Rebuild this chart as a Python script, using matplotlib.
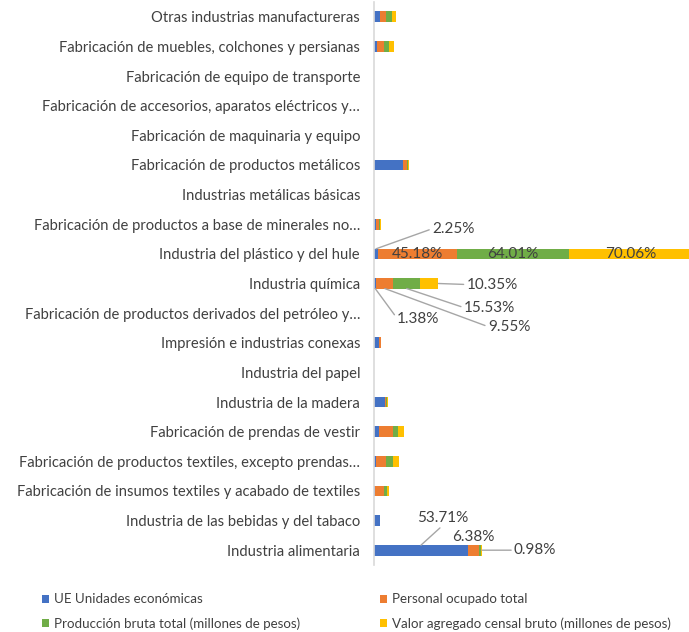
import numpy as np
import matplotlib.pyplot as plt

plt.rcParams['font.family'] = ['Lato', 'DejaVu Sans']

categorias = ['Otras industrias manufactureras',
              'Fabricación de muebles, colchones y persianas',
              'Fabricación de equipo de transporte',
              'Fabricación de accesorios, aparatos eléctricos y…',
              'Fabricación de maquinaria y equipo',
              'Fabricación de productos metálicos',
              'Industrias metálicas básicas',
              'Fabricación de productos a base de minerales no…',
              'Industria del plástico y del hule',
              'Industria química',
              'Fabricación de productos derivados del petróleo y…',
              'Impresión e industrias conexas',
              'Industria del papel',
              'Industria de la madera',
              'Fabricación de prendas de vestir',
              'Fabricación de productos textiles, excepto prendas…',
              'Fabricación de insumos textiles y acabado de textiles',
              'Industria de las bebidas y del tabaco',
              'Industria alimentaria']

series = ['UE Unidades económicas', 'Personal ocupado total',
          'Producción bruta total (millones de pesos)',
          'Valor agregado censal bruto (millones de pesos)']
colores = ['#4472C4', '#ED7D31', '#70AD47', '#FFC000']

# porcentajes por rama
ue       = [3.3, 1.9, 0, 0, 0, 16.4, 0, 1.1, 2.25, 1.38, 0, 3.0, 0, 6.3, 3.0, 1.0, 0.8, 3.4, 53.71]
personal = [3.6, 3.8, 0, 0, 0, 2.6, 0, 1.9, 45.18, 9.55, 0, 0.8, 0, 0.7, 8.0, 5.9, 5.0, 0, 6.38]
produccion = [3.3, 3.0, 0, 0, 0, 0.4, 0, 0.3, 64.01, 15.53, 0, 0, 0, 0.4, 2.9, 4.2, 1.5, 0, 0.98]
valor    = [2.3, 3.0, 0, 0, 0, 0.4, 0, 0.6, 70.06, 10.35, 0, 0.4, 0, 0.4, 3.3, 2.9, 1.1, 0, 0.6]

datos = [ue, personal, produccion, valor]
y = np.arange(len(categorias))

fig = plt.figure(figsize=(6.89, 6.32), dpi=100)
ax = fig.add_axes([374/689, 1-565/632, 1-374/689, 563/632])

izq = np.zeros(len(categorias))
barras = []
for nombre, vals, c in zip(series, datos, colores):
    b = ax.barh(y, vals, left=izq, height=0.36, color=c, label=nombre)
    barras.append(b)
    izq += np.array(vals)

ax.set_ylim(len(categorias)-0.5, -0.5)
ax.set_xlim(0, 180)
ax.set_yticks(y)
ax.set_yticklabels(categorias, fontsize=10.6, color='#404040')
ax.tick_params(axis='y', length=0, pad=10)
ax.set_xticks([])
for s in ['top', 'right', 'bottom']:
    ax.spines[s].set_visible(False)
ax.spines['left'].set_color('#D9D9D9')
ax.spines['left'].set_linewidth(1.2)

gris = '#404040'
fs = 11
linea = dict(arrowstyle='-', color='#A6A6A6', lw=1, shrinkA=0, shrinkB=0)

def centro(i, k):
    base = sum(datos[j][i] for j in range(k))
    return base + datos[k][i] / 2

def fin(i, k):
    return sum(datos[j][i] for j in range(k + 1))

ip = categorias.index('Industria del plástico y del hule')
for k in [1, 2, 3]:
    ax.text(centro(ip, k), ip, f'{datos[k][ip]:.2f}%', ha='center', va='center',
            fontsize=fs, color=gris, clip_on=False)
ax.annotate(f'{ue[ip]:.2f}%', xy=(centro(ip, 0), ip - 0.17), xytext=(56, 20),
            textcoords='offset pixels', ha='left', va='center', fontsize=fs, color=gris,
            arrowprops=dict(linea, relpos=(0, 0.5)))

iq = categorias.index('Industria química')
ax.annotate(f'{valor[iq]:.2f}%', xy=(fin(iq, 3), iq), xytext=(28, -1),
            textcoords='offset pixels', ha='left', va='center', fontsize=fs, color=gris,
            arrowprops=dict(linea, relpos=(0, 0.5)))
ax.annotate(f'{produccion[iq]:.2f}%', xy=(centro(iq, 2), iq + 0.17), xytext=(57, -19),
            textcoords='offset pixels', ha='left', va='center', fontsize=fs, color=gris,
            arrowprops=dict(linea, relpos=(0, 0.5)))
ax.annotate(f'{personal[iq]:.2f}%', xy=(centro(iq, 1), iq + 0.17), xytext=(103, -38),
            textcoords='offset pixels', ha='left', va='center', fontsize=fs, color=gris,
            arrowprops=dict(linea, relpos=(0, 0.5)))
ax.annotate(f'{ue[iq]:.2f}%', xy=(centro(iq, 0), iq + 0.17), xytext=(22, -30),
            textcoords='offset pixels', ha='left', va='center', fontsize=fs, color=gris,
            arrowprops=dict(linea, relpos=(0, 0.5)))

ia = categorias.index('Industria alimentaria')
ax.annotate(f'{ue[ia]:.2f}%', xy=(centro(ia, 0), ia - 0.17), xytext=(22, 27),
            textcoords='offset pixels', ha='center', va='center', fontsize=fs, color=gris,
            arrowprops=dict(linea, relpos=(0.5, 0)))
ax.text(centro(ia, 1), ia - 0.45, f'{personal[ia]:.2f}%', ha='center', va='center',
        fontsize=fs, color=gris)
ax.annotate(f'{produccion[ia]:.2f}%', xy=(fin(ia, 3), ia), xytext=(32, 0),
            textcoords='offset pixels', ha='left', va='center', fontsize=fs, color=gris,
            arrowprops=dict(linea, relpos=(0, 0.5)))

# orden por filas como en Excel
orden = [0, 2, 1, 3]
fig.legend([barras[i] for i in orden], [series[i] for i in orden],
           loc='lower left', bbox_to_anchor=(30/689, -10/632), ncol=2,
           frameon=False, fontsize=9.6, labelcolor=gris, handlelength=0.55, handleheight=0.55,
           handletextpad=0.35, columnspacing=6.0, labelspacing=0.9)

fig.savefig('out.png', dpi=100)
